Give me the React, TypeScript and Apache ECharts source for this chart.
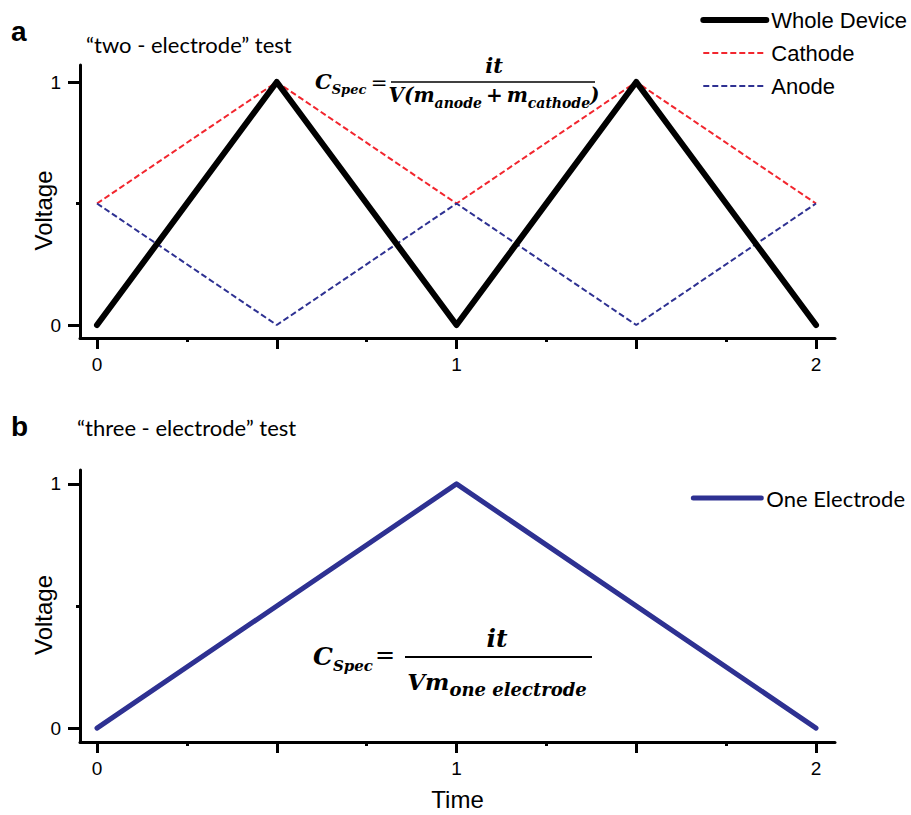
import React, { useEffect, useRef } from "react";
import * as echarts from "echarts";

const timeA = [0, 0.5, 1, 1.5, 2];
const wholeDevice = [0, 1, 0, 1, 0];
const cathode = [0.5, 1, 0.5, 1, 0.5];
const anode = [0.5, 0, 0.5, 0, 0.5];
const timeB = [0, 1, 2];
const oneElectrode = [0, 1, 0];
const xMajorTicks = [0, 0.5, 1, 1.5, 2];
const xMinorTicks = [0.25, 0.75, 1.25, 1.75];
const xTickLabels = [0, 1, 2];
const yMajorTicks = [0, 1];
const yMinorTicks = [0.5];
const yTickLabels = [0, 1];

const RED = "#f2262e";
const NAVY = "#2e3192";
const SANS = "Liberation Sans, Arial, sans-serif";
const HUM = "Lato, 'Open Sans', sans-serif";
const MATH = "'DejaVu Serif', 'Liberation Serif', serif";

function xAx(grid: number, min: number, max: number, ticks: number[], len: number, major: boolean, name?: string) {
  return {
    type: "value",
    gridIndex: grid,
    position: "bottom",
    min,
    max,
    name: name || "",
    nameLocation: "middle",
    nameGap: 45,
    nameMoveOverlap: false,
    nameTextStyle: { fontFamily: SANS, fontSize: 24, color: "#000" },
    splitLine: { show: false },
    axisLine: { show: major, onZero: false, lineStyle: { color: "#000", width: 3 } },
    axisTick: { show: true, customValues: ticks, length: len, lineStyle: { color: "#000", width: 3 } },
    axisLabel: {
      show: major,
      customValues: xTickLabels,
      margin: 17,
      fontFamily: SANS,
      fontSize: 19,
      color: "#000",
    },
  };
}

function yAx(grid: number, min: number, max: number, ticks: number[], len: number, major: boolean) {
  return {
    type: "value",
    gridIndex: grid,
    position: "left",
    min,
    max,
    name: major ? "Voltage" : "",
    nameLocation: "middle",
    nameGap: 25,
    nameMoveOverlap: false,
    nameTextStyle: { fontFamily: SANS, fontSize: 24, color: "#000", padding: [0, 18, 0, 0] },
    splitLine: { show: false },
    axisLine: { show: major, onZero: false, lineStyle: { color: "#000", width: 3 } },
    axisTick: { show: true, customValues: ticks, length: len, lineStyle: { color: "#000", width: 3 } },
    axisLabel: {
      show: major,
      customValues: yTickLabels,
      margin: 19,
      fontFamily: SANS,
      fontSize: 19,
      color: "#000",
    },
  };
}

const pairs = (xs: number[], ys: number[]) => xs.map((x, i) => [x, ys[i]]);

function mathRich(main: number, sub: number, lh: number, slh: number) {
  const base = { fontFamily: MATH, fontWeight: "bold", fontStyle: "italic", fill: "#000" };
  return {
    n: { ...base, fontSize: main, lineHeight: lh, verticalAlign: "middle" },
    s: { ...base, fontSize: sub, lineHeight: slh, verticalAlign: "bottom" },
  };
}

export default function App() {
  const ref = useRef<HTMLDivElement>(null);
  useEffect(() => {
    if (!ref.current) return;
    const chart = echarts.init(ref.current, null, { renderer: "svg" });
    const xMinA = -0.0473, xMaxA = 2.0528;
    const option: any = {
      animation: false,
      backgroundColor: "#fff",
      grid: [
        { left: 80, top: 65, width: 755, height: 273 },
        { left: 80, top: 470, width: 755, height: 272 },
      ],
      xAxis: [
        xAx(0, xMinA, xMaxA, xMajorTicks, 11, true),
        xAx(0, xMinA, xMaxA, xMinorTicks, 4, false),
        xAx(1, xMinA, xMaxA, xMajorTicks, 11, true, "Time"),
        xAx(1, xMinA, xMaxA, xMinorTicks, 4, false),
      ],
      yAxis: [
        yAx(0, -0.0535, 1.07, yMajorTicks, 12, true),
        yAx(0, -0.0535, 1.07, yMinorTicks, 4, false),
        yAx(1, -0.057, 1.057, yMajorTicks, 12, true),
        yAx(1, -0.057, 1.057, yMinorTicks, 4, false),
      ],
      legend: [
        {
          orient: "vertical",
          right: 4,
          top: 9,
          padding: 0,
          itemWidth: 63,
          itemHeight: 14,
          itemGap: 11,
          itemStyle: { opacity: 0 },
          textStyle: { fontFamily: SANS, fontSize: 22, color: "#000" },
          data: [
            { name: "Whole Device", lineStyle: { width: 6 } },
            { name: "Cathode", lineStyle: { width: 2 } },
            { name: "Anode", lineStyle: { width: 2 } },
          ],
        },
        {
          orient: "vertical",
          right: 6,
          top: 487,
          padding: 0,
          itemWidth: 68,
          itemHeight: 14,
          itemStyle: { opacity: 0 },
          textStyle: { fontFamily: HUM, fontSize: 22, color: "#000" },
          data: [{ name: "One Electrode", lineStyle: { width: 5 } }],
        },
      ],
      series: [
        {
          name: "Cathode",
          type: "line",
          xAxisIndex: 0,
          yAxisIndex: 0,
          symbol: "none",
          data: pairs(timeA, cathode),
          lineStyle: { color: RED, width: 2, type: [6, 3] },
          itemStyle: { color: RED },
        },
        {
          name: "Anode",
          type: "line",
          xAxisIndex: 0,
          yAxisIndex: 0,
          symbol: "none",
          data: pairs(timeA, anode),
          lineStyle: { color: NAVY, width: 2, type: [6, 3] },
          itemStyle: { color: NAVY },
        },
        {
          name: "Whole Device",
          type: "line",
          xAxisIndex: 0,
          yAxisIndex: 0,
          symbol: "none",
          data: pairs(timeA, wholeDevice),
          lineStyle: { color: "#000", width: 6, cap: "round", join: "round" },
          itemStyle: { color: "#000" },
        },
        {
          name: "One Electrode",
          type: "line",
          xAxisIndex: 2,
          yAxisIndex: 2,
          symbol: "none",
          data: pairs(timeB, oneElectrode),
          lineStyle: { color: NAVY, width: 5, cap: "round", join: "round" },
          itemStyle: { color: NAVY },
        },
      ],
      graphic: [
        { type: "text", left: 11, top: 17, style: { text: "a", font: `bold 28px ${SANS}`, fill: "#000" } },
        { type: "text", left: 86, top: 33, style: { text: "\u201ctwo - electrode\u201d test", font: `22px ${HUM}`, fill: "#000" } },
        { type: "text", left: 11, top: 412, style: { text: "b", font: `bold 28px ${SANS}`, fill: "#000" } },
        { type: "text", left: 77, top: 416, style: { text: "\u201cthree - electrode\u201d test", font: `22px ${HUM}`, fill: "#000" } },
        // formula a
        {
          type: "text", x: 315, y: 81,
          style: { text: "{n|C}{s|Spec}", verticalAlign: "middle", align: "left", rich: mathRich(21, 13, 30, 16) },
        },
        { type: "text", x: 379, y: 83, style: { text: "=", align: "center", verticalAlign: "middle", font: `20px ${MATH}`, fill: "#000" } },
        { type: "line", shape: { x1: 391, y1: 82, x2: 595, y2: 82 }, style: { stroke: "#000", lineWidth: 1.5 } },
        { type: "text", x: 494, y: 65, style: { text: "it", align: "center", verticalAlign: "middle", font: `italic bold 21px ${MATH}`, fill: "#000" } },
        {
          type: "text", x: 494, y: 95,
          style: { text: "{n|V(m}{s|anode}{n|\u2009+\u2009m}{s|cathode}{n|)}", verticalAlign: "middle", align: "center", rich: mathRich(20, 14, 30, 16) },
        },
        // formula b
        {
          type: "text", x: 313, y: 656,
          style: { text: "{n|C}{s|Spec}", verticalAlign: "middle", align: "left", rich: mathRich(25, 15, 34, 18) },
        },
        { type: "text", x: 385, y: 655, style: { text: "=", align: "center", verticalAlign: "middle", font: `24px ${MATH}`, fill: "#000" } },
        { type: "line", shape: { x1: 405, y1: 657, x2: 592, y2: 657 }, style: { stroke: "#000", lineWidth: 2 } },
        { type: "text", x: 497, y: 638, style: { text: "it", align: "center", verticalAlign: "middle", font: `italic bold 25px ${MATH}`, fill: "#000" } },
        {
          type: "text", x: 497, y: 681,
          style: { text: "{n|Vm}{s|one electrode}", verticalAlign: "middle", align: "center", rich: mathRich(23, 18, 34, 18) },
        },
      ],
    };
    chart.setOption(option);
    return () => chart.dispose();
  }, []);
  return <div ref={ref} style={{ width: 911, height: 815, position: "absolute", left: 0, top: 0 }} />;
}
